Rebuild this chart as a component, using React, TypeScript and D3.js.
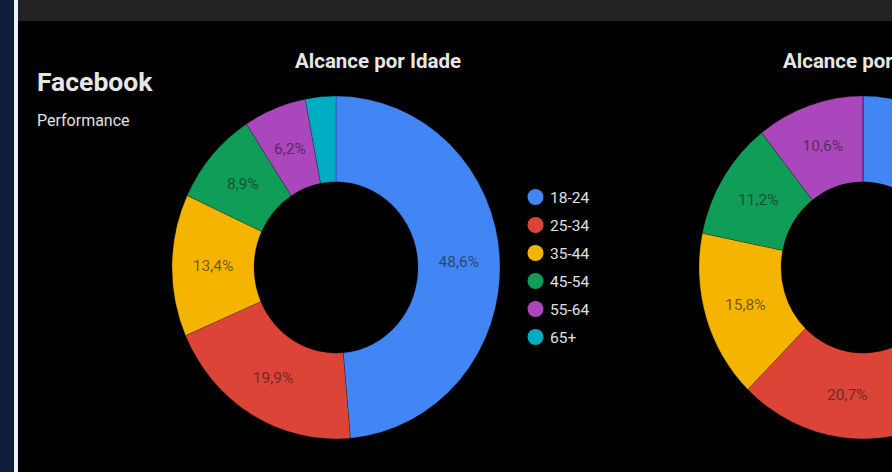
import React, { useEffect, useRef } from "react";
import * as d3 from "d3";

const categories = ["18-24", "25-34", "35-44", "45-54", "55-64", "65+"];
const reachLeft = [48.6, 19.9, 13.4, 8.9, 6.2, 3.0];
const reachRight = [41.7, 20.7, 15.8, 11.2, 10.6, 0];
const colors = ["#4285f4", "#db4437", "#f4b400", "#0f9d58", "#ab47bc", "#00acc1"];
const chartTitle = "Alcance por Idade";
const pageTitle = "Facebook";
const pageSubtitle = "Performance";

const W = 892;
const H = 472;

export default function App() {
  const ref = useRef<SVGSVGElement | null>(null);

  useEffect(() => {
    const svg = d3.select(ref.current);
    svg.selectAll("*").remove();

    // background
    svg.append("rect").attr("x", 0).attr("y", 0).attr("width", W).attr("height", H).attr("fill", "#000");
    svg.append("rect").attr("x", 0).attr("y", 0).attr("width", 14).attr("height", H).attr("fill", "#0e1d3b");
    svg.append("rect").attr("x", 14).attr("y", 0).attr("width", 4).attr("height", H).attr("fill", "#e8f1fc");
    svg.append("rect").attr("x", 18).attr("y", 0).attr("width", W - 18).attr("height", 21).attr("fill", "#222222");

    svg.append("text").attr("x", 37).attr("y", 90.5).text(pageTitle)
      .attr("font-family", "Roboto").attr("font-weight", 700).attr("font-size", 26.5).attr("fill", "#e6e6e6");
    svg.append("text").attr("x", 37).attr("y", 126).text(pageSubtitle)
      .attr("font-family", "Roboto").attr("font-size", 16).attr("fill", "#e0e0e0");

    const pie = d3.pie<number>().sort(null).value((d) => d);
    const rx = 164;
    const sy = 1.045;
    const inner = 82;
    const arc = d3.arc<d3.PieArcDatum<number>>().innerRadius(inner).outerRadius(rx);
    const labelArc = d3.arc<d3.PieArcDatum<number>>().innerRadius(inner).outerRadius(rx);

    const drawDonut = (values: number[], cx: number, cy: number, titleX: number) => {
      svg.append("text").attr("x", titleX).attr("y", 68).text(chartTitle)
        .attr("font-family", "Roboto").attr("font-weight", 700).attr("font-size", 20.5).attr("fill", "#e6e6e6");
      const g = svg.append("g").attr("transform", `translate(${cx},${cy}) scale(1,${sy})`);
      const arcs = pie(values);
      g.selectAll("path").data(arcs).enter().append("path")
        .attr("d", (d) => arc(d) as string)
        .attr("fill", (_d, i) => colors[i])
        .attr("stroke", "rgba(0,0,0,0.35)")
        .attr("stroke-width", 0.6);
      const lg = svg.append("g").attr("transform", `translate(${cx},${cy})`);
      lg.selectAll("text").data(arcs.filter((d) => d.data >= 5)).enter().append("text")
        .attr("x", (d) => labelArc.centroid(d)[0])
        .attr("y", (d) => labelArc.centroid(d)[1] * sy)
        .attr("dy", "0.35em")
        .attr("text-anchor", "middle")
        .attr("font-family", "Roboto")
        .attr("font-size", 15.5)
        .attr("fill", "#1a1a1a")
        .attr("fill-opacity", 0.62)
        .text((d) => d.data.toFixed(1).replace(".", ",") + "%");
    };

    drawDonut(reachLeft, 336, 267.5, 295);
    drawDonut(reachRight, 863, 267.5, 783);

    // legend
    const legend = svg.append("g");
    const ly = d3.scalePoint<string>().domain(categories).range([197, 337]);
    categories.forEach((c, i) => {
      legend.append("circle").attr("cx", 535.5).attr("cy", ly(c) as number).attr("r", 8).attr("fill", colors[i]);
      legend.append("text").attr("x", 550).attr("y", (ly(c) as number) + 5.5).text(c)
        .attr("font-family", "Roboto").attr("font-size", 15.5).attr("fill", "#e0e0e0");
    });
  }, []);

  return (
    <svg ref={ref} width={W} height={H} style={{ position: "absolute", left: 0, top: 0, display: "block" }} />
  );
}
